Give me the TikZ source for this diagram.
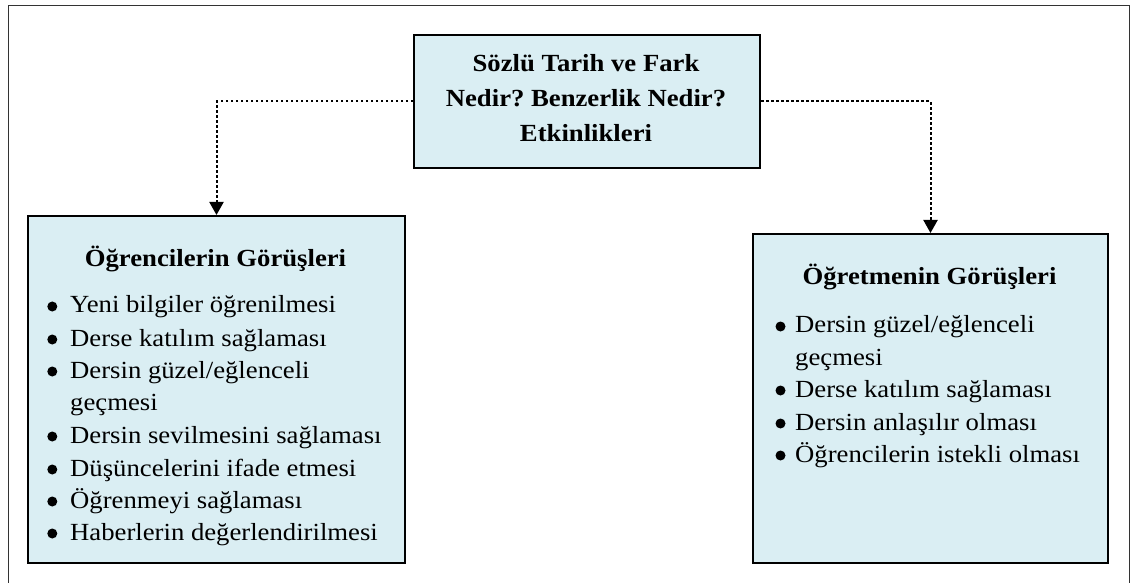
\documentclass[tikz,border=0pt]{standalone}
\usepackage{fontspec}
\setmainfont{Liberation Serif}[FakeStretch=1.085]
\usetikzlibrary{arrows.meta}
\definecolor{boxfill}{HTML}{DAEEF3}
\definecolor{framecol}{HTML}{333333}
\begin{document}
\frenchspacing
\begin{tikzpicture}[x=1bp,y=-1bp,
  box/.style={draw=black, line width=2bp, fill=boxfill, inner sep=0pt, anchor=north west},
  ttl/.style={font=\fontsize{24.7}{35}\selectfont\bfseries, anchor=base, inner sep=0pt},
  itm/.style={font=\fontsize{24.7}{32.4}\selectfont, anchor=base west, inner sep=0pt},
  bul/.style={fill=black},
  conn/.style={line width=2bp, dash pattern=on 2.5bp off 2.5bp, -{Triangle[width=14bp,length=13bp]}}]
\useasboundingbox (0,0) rectangle (1134,583);
% outer frame
\draw[framecol, line width=1bp] (8,590) -- (8,6) -- (1129,6) -- (1129,590);
% boxes
\node[box, minimum width=346bp, minimum height=133bp] (top) at (413,34) {};
\node[box, minimum width=377bp, minimum height=347bp] (left) at (27,215) {};
\node[box, minimum width=355bp, minimum height=329bp] (right) at (752,233) {};
% top text
\node[ttl] (t1) at (586,72) {Sözlü Tarih ve Fark};
\node[ttl] (t2) at (586,107) {Nedir? Benzerlik Nedir?};
\node[ttl] (t3) at (586,142) {Etkinlikleri};
% left box
\node[ttl] (lt) at (215.5,267) {Öğrencilerin Görüşleri};
\node[itm] (l1) at (70,313) {Yeni bilgiler öğrenilmesi};
\node[itm] (l2) at (70,346) {Derse katılım sağlaması};
\node[itm] (l3) at (70,378) {\parbox[t]{300bp}{Dersin güzel/eğlenceli\\geçmesi}};
\node[itm] (l4) at (70,443) {Dersin sevilmesini sağlaması};
\node[itm] (l5) at (70,476) {Düşüncelerini ifade etmesi};
\node[itm] (l6) at (70,508) {Öğrenmeyi sağlaması};
\node[itm] (l7) at (70,540) {Haberlerin değerlendirilmesi};
\foreach \y in {313,346,378,443,476,508,540} \fill[bul] (52.3,\y-6.5) circle (5bp);
% right box
\node[ttl] (rt) at (929.5,285) {Öğretmenin Görüşleri};
\node[itm] (r1) at (795,333) {\parbox[t]{300bp}{Dersin güzel/eğlenceli\\geçmesi}};
\node[itm] (r2) at (795,397) {Derse katılım sağlaması};
\node[itm] (r3) at (795,430) {Dersin anlaşılır olması};
\node[itm] (r4) at (795,462) {Öğrencilerin istekli olması};
\foreach \y in {333,397,430,462} \fill[bul] (780.5,\y-6.5) circle (5bp);
% connectors
\draw[conn] (top.west) -| (left.north);
\draw[conn] (top.east) -| (right.north);
\end{tikzpicture}
\end{document}
